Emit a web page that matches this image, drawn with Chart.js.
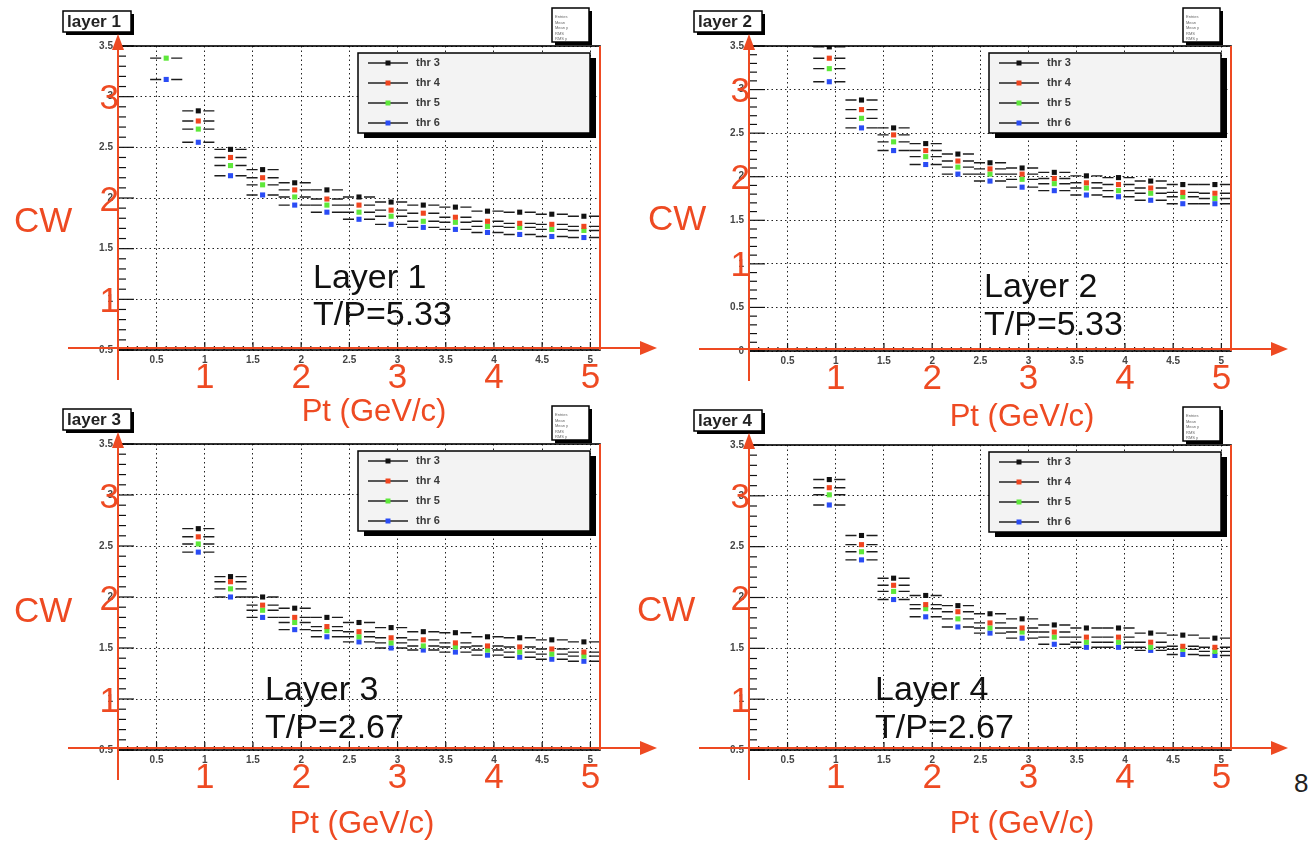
<!DOCTYPE html>
<html>
<head>
<meta charset="utf-8">
<script src="https://cdn.jsdelivr.net/npm/chart.js@4.4.1/dist/chart.umd.min.js"></script>
<style>
  body { margin: 0; background: #fff; width: 1308px; height: 843px; overflow: hidden; position: relative; font-family: "Liberation Sans", Arial, sans-serif; }
  .pageno { position: absolute; left: 1294px; top: 768px; font-size: 26px; color: #222; }
</style>
</head>
<body>
<div class="pageno">8</div>
<script>
// bin centres in Pt (GeV/c), bins are 1/3 wide from 0.1 to 5.1
const ptCenters = [0.6, 0.933, 1.267, 1.6, 1.933, 2.267, 2.6, 2.933, 3.267, 3.6, 3.933, 4.267, 4.6, 4.933];
const binHalfWidth = 0.1667;

const thresholds = ["thr 3", "thr 4", "thr 5", "thr 6"];
const thrColors = ["#111111", "#f0451f", "#5ee83a", "#2a4cf5"];

// cluster width per threshold, one array each (null = off scale)
const layer1Thr3 = [null, 2.86, 2.48, 2.28, 2.15, 2.08, 2.01, 1.96, 1.93, 1.91, 1.87, 1.86, 1.84, 1.82];
const layer1Thr4 = [null, 2.76, 2.40, 2.20, 2.08, 1.99, 1.93, 1.88, 1.85, 1.81, 1.77, 1.75, 1.74, 1.72];
const layer1Thr5 = [3.38, 2.68, 2.32, 2.13, 2.01, 1.93, 1.86, 1.82, 1.77, 1.76, 1.72, 1.71, 1.69, 1.68];
const layer1Thr6 = [3.17, 2.55, 2.22, 2.03, 1.93, 1.86, 1.79, 1.74, 1.71, 1.69, 1.66, 1.64, 1.62, 1.61];

const layer2Thr3 = [null, 3.49, 2.88, 2.56, 2.38, 2.26, 2.16, 2.10, 2.05, 2.01, 1.99, 1.95, 1.91, 1.91];
const layer2Thr4 = [null, 3.36, 2.77, 2.48, 2.30, 2.18, 2.09, 2.03, 1.98, 1.93, 1.91, 1.87, 1.82, 1.81];
const layer2Thr5 = [null, 3.24, 2.67, 2.40, 2.23, 2.11, 2.03, 1.97, 1.92, 1.87, 1.84, 1.81, 1.77, 1.75];
const layer2Thr6 = [null, 3.09, 2.56, 2.30, 2.14, 2.03, 1.95, 1.88, 1.84, 1.79, 1.77, 1.73, 1.69, 1.69];

const layer3Thr3 = [null, 2.67, 2.20, 2.00, 1.89, 1.80, 1.75, 1.70, 1.66, 1.65, 1.61, 1.60, 1.58, 1.56];
const layer3Thr4 = [null, 2.59, 2.15, 1.92, 1.80, 1.71, 1.66, 1.60, 1.58, 1.55, 1.52, 1.51, 1.49, 1.46];
const layer3Thr5 = [null, 2.52, 2.08, 1.87, 1.75, 1.67, 1.61, 1.55, 1.52, 1.51, 1.48, 1.46, 1.44, 1.42];
const layer3Thr6 = [null, 2.44, 2.00, 1.80, 1.68, 1.61, 1.56, 1.50, 1.48, 1.46, 1.43, 1.41, 1.39, 1.37];

const layer4Thr3 = [null, 3.16, 2.61, 2.19, 2.02, 1.92, 1.84, 1.79, 1.73, 1.70, 1.70, 1.65, 1.63, 1.60];
const layer4Thr4 = [null, 3.08, 2.52, 2.12, 1.93, 1.86, 1.75, 1.70, 1.66, 1.61, 1.61, 1.56, 1.52, 1.51];
const layer4Thr5 = [null, 3.01, 2.45, 2.06, 1.89, 1.79, 1.70, 1.66, 1.61, 1.56, 1.56, 1.51, 1.49, 1.47];
const layer4Thr6 = [null, 2.91, 2.37, 1.98, 1.81, 1.71, 1.65, 1.60, 1.54, 1.51, 1.51, 1.48, 1.44, 1.43];

// tick labels
const xTickVals = [0.5, 1, 1.5, 2, 2.5, 3, 3.5, 4, 4.5, 5];
const yTickValsA = [0.5, 1, 1.5, 2, 2.5, 3, 3.5];
const yTickValsB = [0, 0.5, 1, 1.5, 2, 2.5, 3, 3.5];
const bigXLabels = [1, 2, 3, 4, 5];
const bigYLabels = [1, 2, 3];

const RED = "#ee4a22";
const FONT = "'Liberation Sans', Arial, sans-serif";

// canvas rect and plot frame in page pixels, plus where the hand-written notes sit
const panels = [
  { name: "layer 1", note: ["Layer 1", "T/P=5.33"], yMin: 0.5, yMax: 3.5, yTicks: yTickValsA,
    series: [layer1Thr3, layer1Thr4, layer1Thr5, layer1Thr6],
    canvas: [0, 0, 670, 432], area: [118, 46, 600, 350],
    cw: [14, 232], pt: [374, 421], notePos: [313, 288, 325] },
  { name: "layer 2", note: ["Layer 2", "T/P=5.33"], yMin: 0, yMax: 3.5, yTicks: yTickValsB,
    series: [layer2Thr3, layer2Thr4, layer2Thr5, layer2Thr6],
    canvas: [636, 0, 672, 432], area: [749, 46, 1231, 351],
    cw: [648, 230], pt: [1022, 426], notePos: [984, 297, 335] },
  { name: "layer 3", note: ["Layer 3", "T/P=2.67"], yMin: 0.5, yMax: 3.5, yTicks: yTickValsA,
    series: [layer3Thr3, layer3Thr4, layer3Thr5, layer3Thr6],
    canvas: [0, 398, 670, 445], area: [118, 444, 600, 750],
    cw: [14, 622], pt: [362, 833], notePos: [265, 700, 738] },
  { name: "layer 4", note: ["Layer 4", "T/P=2.67"], yMin: 0.5, yMax: 3.5, yTicks: yTickValsA,
    series: [layer4Thr3, layer4Thr4, layer4Thr5, layer4Thr6],
    canvas: [622, 398, 686, 445], area: [749, 445, 1231, 750],
    cw: [637, 621], pt: [1022, 833], notePos: [875, 700, 738] }
];

const Y_AXIS_W = 30;
const X_AXIS_H = 22;

// horizontal error bars (bin width), drawn under the markers
const errorBars = {
  id: "errorBars",
  beforeDatasetsDraw(chart) {
    const { ctx, chartArea: a, scales: { x, y } } = chart;
    ctx.save();
    ctx.beginPath();
    ctx.rect(a.left, a.top, a.width, a.height);
    ctx.clip();
    ctx.strokeStyle = "#1c1c1c";
    ctx.lineWidth = 1.4;
    chart.data.datasets.forEach(ds => {
      ds.data.forEach(p => {
        if (p.y == null) return;
        const py = y.getPixelForValue(p.y);
        const cx = x.getPixelForValue(p.x);
        const x0 = x.getPixelForValue(p.x - binHalfWidth);
        const x1 = x.getPixelForValue(p.x + binHalfWidth);
        ctx.beginPath();
        ctx.moveTo(x0, py); ctx.lineTo(cx - 5, py);
        ctx.moveTo(cx + 5, py); ctx.lineTo(x1, py);
        ctx.stroke();
      });
    });
    ctx.restore();
  }
};

function shadowBox(ctx, bx, by, bw, bh, off, fill) {
  ctx.fillStyle = "#000";
  ctx.fillRect(bx + off[0], by + off[1], bw, bh);
  ctx.fillStyle = fill;
  ctx.fillRect(bx, by, bw, bh);
  ctx.strokeStyle = "#000";
  ctx.lineWidth = 1.5;
  ctx.strokeRect(bx, by, bw, bh);
}

function makeDeco(p) {
  const ox = p.canvas[0], oy = p.canvas[1];
  return {
    id: "deco",
    afterDraw(chart) {
      const { ctx, chartArea: a, scales: { x, y } } = chart;
      ctx.save();

      // ROOT style inner ticks
      ctx.strokeStyle = "#111";
      ctx.lineWidth = 1.2;
      for (let k = Math.round(p.yMin * 10); k <= Math.round(p.yMax * 10); k++) {
        const py = y.getPixelForValue(k / 10);
        const len = k % 5 === 0 ? 16 : 8;
        ctx.beginPath(); ctx.moveTo(a.left, py); ctx.lineTo(a.left + len, py); ctx.stroke();
      }
      for (let k = 1; k <= 51; k++) {
        const px = x.getPixelForValue(k / 10);
        const len = k % 5 === 0 ? 8 : 4;
        ctx.beginPath(); ctx.moveTo(px, a.bottom); ctx.lineTo(px, a.bottom - len); ctx.stroke();
      }

      // frame
      ctx.strokeStyle = "#000";
      ctx.lineWidth = 1.6;
      ctx.strokeRect(a.left, a.top, a.width, a.height);

      // legend
      const lx = a.right - 242, ly = a.top + 7, lw = 232, lh = 80;
      shadowBox(ctx, lx, ly, lw, lh, [6, 5], "#f3f3f3");
      ctx.font = "bold 11px " + FONT;
      ctx.textBaseline = "middle";
      ctx.textAlign = "left";
      chart.data.datasets.forEach((ds, i) => {
        const ry = ly + 10 + i * 20;
        ctx.strokeStyle = "#222";
        ctx.lineWidth = 1.5;
        ctx.beginPath(); ctx.moveTo(lx + 10, ry); ctx.lineTo(lx + 50, ry); ctx.stroke();
        ctx.fillStyle = ds.backgroundColor;
        ctx.fillRect(lx + 27.5, ry - 2.5, 5, 5);
        ctx.fillStyle = "#3a3a3a";
        ctx.fillText(ds.label, lx + 58, ry);
      });

      // histogram name box
      const bx = a.left - 55, by = a.top - 35;
      shadowBox(ctx, bx, by, 68, 21, [3, 3], "#fff");
      ctx.fillStyle = "#222";
      ctx.font = "bold 17px " + FONT;
      ctx.fillText(p.name, bx + 4, by + 11);

      // stats box
      const sx = a.right - 48, sy = a.top - 38;
      shadowBox(ctx, sx, sy, 37, 34, [3, 3], "#fff");
      ctx.fillStyle = "#666";
      ctx.font = "4px " + FONT;
      ["Entries", "Mean", "Mean y", "RMS", "RMS y"].forEach((t, i) => {
        ctx.fillText(t, sx + 3, sy + 9 + i * 5.5);
      });

      // red annotations
      ctx.strokeStyle = RED;
      ctx.fillStyle = RED;
      ctx.lineWidth = 2;
      ctx.beginPath(); ctx.moveTo(a.right, a.top); ctx.lineTo(a.right, a.bottom); ctx.stroke();
      const ay = a.bottom - 2;
      ctx.beginPath(); ctx.moveTo(a.left - 50, ay); ctx.lineTo(a.right + 44, ay); ctx.stroke();
      ctx.beginPath();
      ctx.moveTo(a.right + 57, ay); ctx.lineTo(a.right + 40, ay - 7); ctx.lineTo(a.right + 40, ay + 7);
      ctx.closePath(); ctx.fill();
      ctx.beginPath(); ctx.moveTo(a.left, a.bottom + 30); ctx.lineTo(a.left, a.top + 2); ctx.stroke();
      ctx.beginPath();
      ctx.moveTo(a.left, a.top - 12); ctx.lineTo(a.left - 6, a.top + 4); ctx.lineTo(a.left + 6, a.top + 4);
      ctx.closePath(); ctx.fill();

      ctx.font = "35px " + FONT;
      ctx.textBaseline = "alphabetic";
      ctx.textAlign = "center";
      bigXLabels.forEach(v => ctx.fillText(String(v), x.getPixelForValue(v), a.bottom + 38));
      ctx.textAlign = "right";
      bigYLabels.forEach(v => ctx.fillText(String(v), a.left + 1, y.getPixelForValue(v) + 12.5));

      ctx.textAlign = "left";
      ctx.fillText("CW", p.cw[0] - ox, p.cw[1] - oy);
      ctx.font = "31px " + FONT;
      ctx.textAlign = "center";
      ctx.fillText("Pt (GeV/c)", p.pt[0] - ox, p.pt[1] - oy);

      // layer note
      ctx.fillStyle = "#111";
      ctx.font = "34px " + FONT;
      ctx.textAlign = "left";
      ctx.fillText(p.note[0], p.notePos[0] - ox, p.notePos[1] - oy);
      ctx.fillText(p.note[1], p.notePos[0] - ox, p.notePos[2] - oy);

      ctx.restore();
    }
  };
}

const tickFont = { family: FONT, size: 10, weight: "bold" };

panels.forEach(p => {
  const cv = document.createElement("canvas");
  cv.width = p.canvas[2];
  cv.height = p.canvas[3];
  cv.style.cssText = "position:absolute;left:" + p.canvas[0] + "px;top:" + p.canvas[1] + "px;";
  document.body.appendChild(cv);

  const datasets = p.series.map((vals, i) => ({
    label: thresholds[i],
    data: ptCenters.map((pt, j) => ({ x: pt, y: vals[j] })),
    backgroundColor: thrColors[i],
    borderColor: thrColors[i],
    borderWidth: 0,
    pointStyle: "rect",
    pointRadius: 3.6,
    showLine: false
  }));

  new Chart(cv, {
    type: "scatter",
    data: { datasets: datasets },
    options: {
      responsive: false,
      animation: false,
      events: [],
      layout: {
        padding: {
          left: p.area[0] - p.canvas[0] - Y_AXIS_W,
          top: p.area[1] - p.canvas[1],
          right: p.canvas[0] + p.canvas[2] - p.area[2],
          bottom: p.canvas[1] + p.canvas[3] - p.area[3] - X_AXIS_H
        }
      },
      plugins: { legend: { display: false }, tooltip: { enabled: false } },
      scales: {
        x: {
          type: "linear",
          min: 0.1,
          max: 5.1,
          afterBuildTicks: s => { s.ticks = xTickVals.map(v => ({ value: v })); },
          afterFit: s => { s.height = X_AXIS_H; },
          ticks: { font: tickFont, color: "#444", padding: 4, maxRotation: 0, autoSkip: false, callback: v => String(v) },
          grid: { color: "#222", lineWidth: 1, drawTicks: false },
          border: { display: false, dash: [1.5, 3] }
        },
        y: {
          type: "linear",
          min: p.yMin,
          max: p.yMax,
          afterBuildTicks: s => { s.ticks = p.yTicks.map(v => ({ value: v })); },
          afterFit: s => { s.width = Y_AXIS_W; },
          ticks: { font: tickFont, color: "#444", padding: 5, autoSkip: false, callback: v => String(v) },
          grid: { color: "#222", lineWidth: 1, drawTicks: false },
          border: { display: false, dash: [1.5, 3] }
        }
      }
    },
    plugins: [errorBars, makeDeco(p)]
  });
});
</script>
</body>
</html>
